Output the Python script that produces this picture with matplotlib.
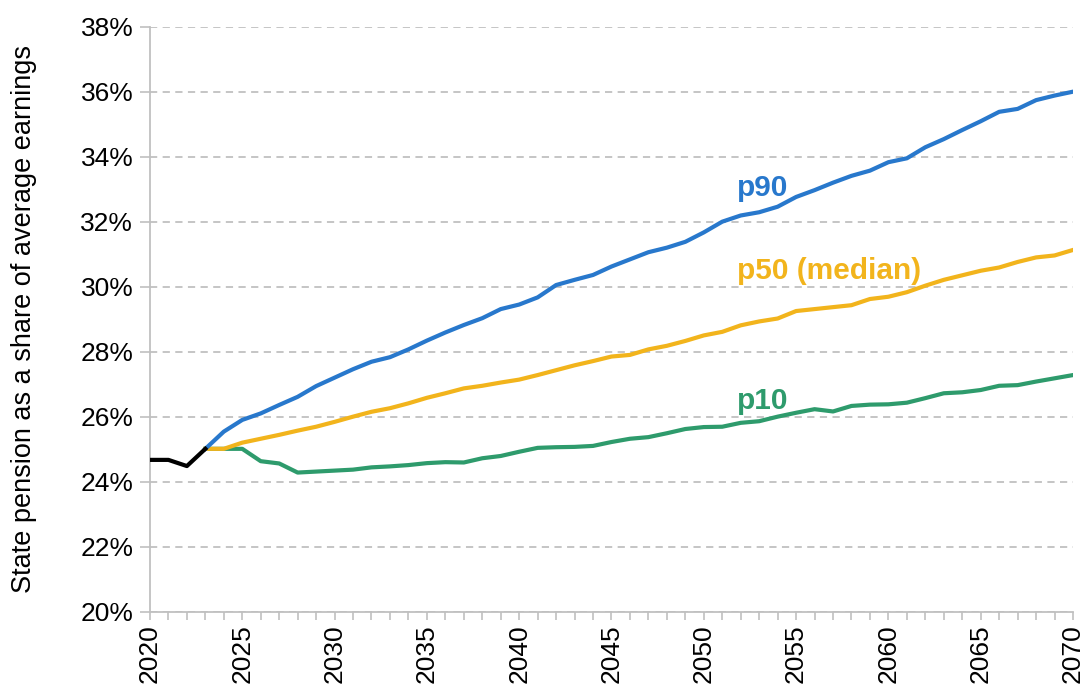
import matplotlib
matplotlib.use("Agg")
import matplotlib.pyplot as plt
from matplotlib.ticker import MultipleLocator, FuncFormatter

plt.rcParams['font.family'] = ['Liberation Sans', 'DejaVu Sans']

# historical (black) and projected percentiles
hist_years = [2020, 2021, 2022, 2023]
hist_vals = [24.68, 24.68, 24.49, 25.02]

proj_years = list(range(2023, 2071))
p90 = [25.02, 25.55, 25.91, 26.11, 26.37, 26.62, 26.95, 27.21, 27.47, 27.70,
       27.84, 28.08, 28.35, 28.60, 28.83, 29.04, 29.32, 29.46, 29.68, 30.06,
       30.22, 30.37, 30.63, 30.85, 31.07, 31.21, 31.39, 31.68, 32.01, 32.20,
       32.30, 32.47, 32.77, 32.98, 33.21, 33.42, 33.58, 33.84, 33.96, 34.30,
       34.55, 34.83, 35.10, 35.39, 35.48, 35.75, 35.89, 36.01]
p50 = [25.02, 25.02, 25.21, 25.33, 25.45, 25.58, 25.70, 25.85, 26.01, 26.16,
       26.27, 26.42, 26.59, 26.73, 26.88, 26.96, 27.06, 27.15, 27.29, 27.44,
       27.59, 27.72, 27.86, 27.91, 28.08, 28.19, 28.34, 28.51, 28.62, 28.82,
       28.94, 29.03, 29.26, 29.32, 29.38, 29.44, 29.63, 29.70, 29.84, 30.04,
       30.22, 30.36, 30.50, 30.60, 30.77, 30.91, 30.97, 31.14]
p10 = [25.02, 25.02, 25.02, 24.64, 24.57, 24.29, 24.32, 24.35, 24.38, 24.45,
       24.48, 24.52, 24.58, 24.61, 24.60, 24.73, 24.80, 24.93, 25.05, 25.07,
       25.08, 25.11, 25.23, 25.33, 25.38, 25.50, 25.63, 25.69, 25.70, 25.82,
       25.87, 26.01, 26.13, 26.24, 26.17, 26.34, 26.38, 26.39, 26.44, 26.58,
       26.73, 26.76, 26.83, 26.96, 26.98, 27.09, 27.19, 27.29]

BLUE = "#2878cc"
YELLOW = "#f2b41c"
GREEN = "#2e9b6c"

fig = plt.figure(figsize=(10.82, 6.87), dpi=100)
ax = fig.add_axes([0.1386, 0.1092, 0.8531, 0.8515])

lw = 3.0
ax.plot(proj_years, p10, color=GREEN, lw=lw, zorder=3)
ax.plot(proj_years, p50, color=YELLOW, lw=lw, zorder=4)
ax.plot(proj_years, p90, color=BLUE, lw=lw, zorder=5)
ax.plot(hist_years, hist_vals, color="black", lw=lw, zorder=6)

ax.text(2051.8, 33.05, "p90", color=BLUE, fontsize=21.5, fontweight="bold", ha="left", va="center")
ax.text(2051.8, 30.5, "p50 (median)", color=YELLOW, fontsize=21.5, fontweight="bold", ha="left", va="center")
ax.text(2051.8, 26.5, "p10", color=GREEN, fontsize=21.5, fontweight="bold", ha="left", va="center")

ax.set_xlim(2020, 2070)
ax.set_ylim(20, 38)
ax.xaxis.set_major_locator(MultipleLocator(5))
ax.xaxis.set_minor_locator(MultipleLocator(1))
ax.yaxis.set_major_locator(MultipleLocator(2))
ax.yaxis.set_major_formatter(FuncFormatter(lambda v, p: f"{v:.0f}%"))

ax.grid(axis="y", color="#c0c0c0", ls=(0, (4, 3)), lw=1.3)
ax.set_axisbelow(True)
for s in ["top", "right"]:
    ax.spines[s].set_visible(False)
for s in ["left", "bottom"]:
    ax.spines[s].set_color("#c0c0c0")
    ax.spines[s].set_linewidth(1.3)

ax.tick_params(axis="x", which="both", direction="out", length=6, color="#c0c0c0", width=1.2,
               labelsize=19, labelrotation=90, pad=3)
ax.tick_params(axis="y", direction="out", length=7, color="#c0c0c0", width=1.2, labelsize=19, pad=5)

ax.set_ylabel("State pension as a share of average earnings", fontsize=19.5, labelpad=31)

fig.savefig("out.png", dpi=100)
